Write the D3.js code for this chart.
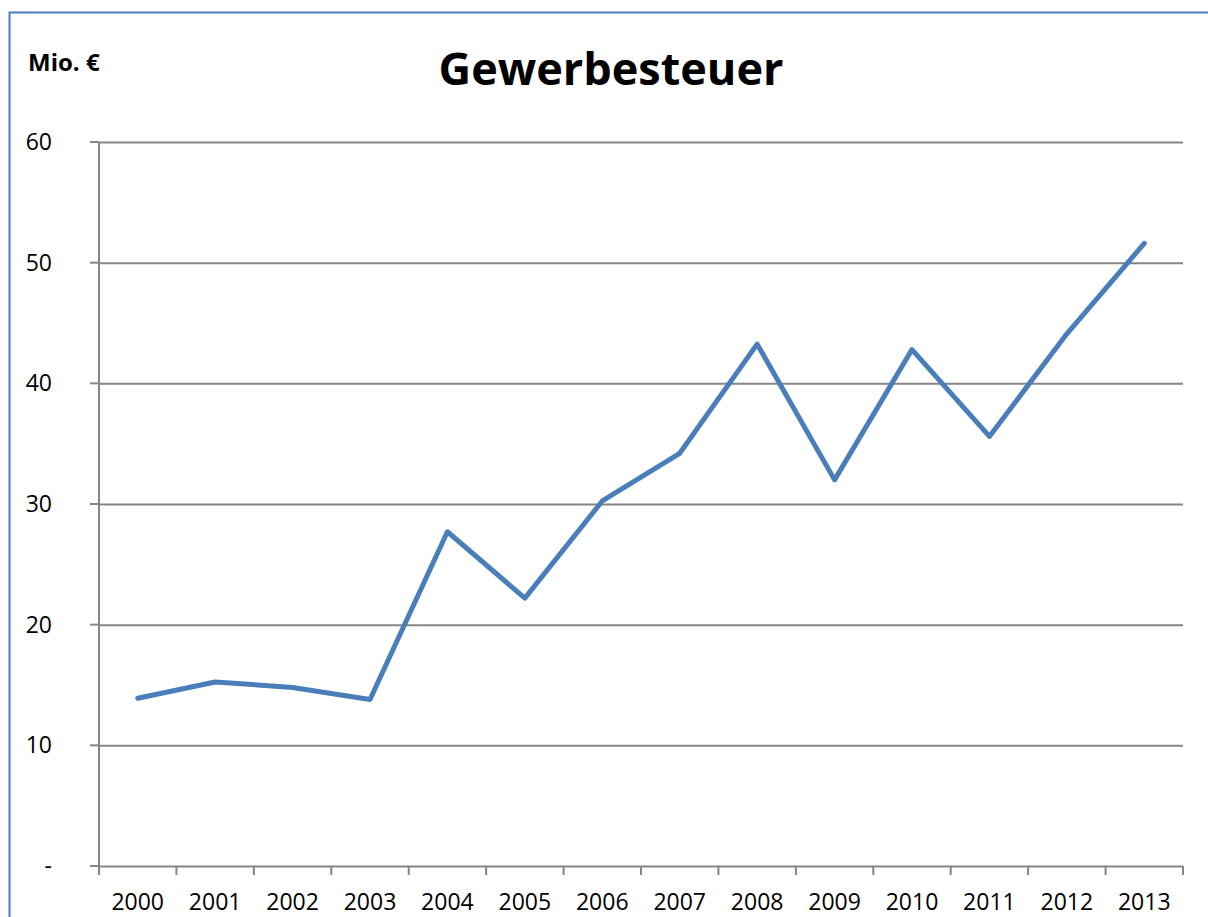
<!DOCTYPE html>
<html>
<head>
<meta charset="utf-8">
<script src="https://cdn.jsdelivr.net/npm/d3@7"></script>
<style>
  body { margin: 0; background: #fff; }
  svg { display: block; font-family: "Open Sans", sans-serif; }
</style>
</head>
<body>
<svg id="chart" width="1208" height="917"></svg>
<script>
// data
const years = ["2000","2001","2002","2003","2004","2005","2006","2007","2008","2009","2010","2011","2012","2013"]
const values = [13.9, 15.25, 14.8, 13.8, 27.7, 22.2, 30.25, 34.2, 43.25, 32.0, 42.8, 35.6, 44.1, 51.6]
const yTicks = [0, 10, 20, 30, 40, 50, 60]
const yTickLabels = ["-", "10", "20", "30", "40", "50", "60"]

const svg = d3.select("#chart")
const plotLeft = 99, plotRight = 1183, plotTop = 142, plotBottom = 866
const grid = "#868686"
const blue = "#4a7ebb"

// frame (only left and top edge are visible)
svg.append("path")
  .attr("d", "M9.5,917 V12.5 H1208")
  .attr("fill", "none")
  .attr("stroke", blue)
  .attr("stroke-width", 2)

const x = d3.scaleBand().domain(years).range([plotLeft, plotRight]).padding(0)
const y = d3.scaleLinear().domain([0, 60]).range([plotBottom, plotTop])

// horizontal gridlines
svg.append("g")
  .attr("transform", `translate(${plotLeft},0)`)
  .call(d3.axisLeft(y).tickValues(yTicks).tickSize(-(plotRight - plotLeft)).tickFormat(""))
  .call(g => g.select(".domain").remove())
  .call(g => g.selectAll("line").attr("stroke", grid).attr("stroke-width", 2))

// small outward ticks on the left
svg.append("g")
  .selectAll("line")
  .data(yTicks)
  .enter()
  .append("line")
  .attr("x1", plotLeft - 9).attr("x2", plotLeft)
  .attr("y1", d => y(d)).attr("y2", d => y(d))
  .attr("stroke", grid).attr("stroke-width", 2)

// y axis line
svg.append("line")
  .attr("x1", plotLeft).attr("x2", plotLeft)
  .attr("y1", plotTop).attr("y2", plotBottom + 9)
  .attr("stroke", grid).attr("stroke-width", 2)

// y labels
svg.append("g")
  .selectAll("text")
  .data(yTicks)
  .enter()
  .append("text")
  .attr("x", 52)
  .attr("y", d => y(d) + 8)
  .attr("text-anchor", "end")
  .attr("font-size", 23)
  .text((d, i) => yTickLabels[i])

// x axis with ticks between categories
const bounds = years.map(d => x(d)).concat([plotRight])
svg.append("g")
  .selectAll("line")
  .data(bounds)
  .enter()
  .append("line")
  .attr("x1", d => d).attr("x2", d => d)
  .attr("y1", plotBottom).attr("y2", plotBottom + 9)
  .attr("stroke", grid).attr("stroke-width", 2)

svg.append("g")
  .selectAll("text")
  .data(years)
  .enter()
  .append("text")
  .attr("x", d => x(d) + x.bandwidth() / 2)
  .attr("y", 910)
  .attr("text-anchor", "middle")
  .attr("font-size", 23)
  .text(d => d)

// the series
const line = d3.line()
  .x((d, i) => x(years[i]) + x.bandwidth() / 2)
  .y(d => y(d))

svg.append("path")
  .datum(values)
  .attr("d", line)
  .attr("fill", "none")
  .attr("stroke", blue)
  .attr("stroke-width", 5)
  .attr("stroke-linejoin", "round")
  .attr("stroke-linecap", "round")

// title and unit
svg.append("text")
  .attr("x", 611)
  .attr("y", 85)
  .attr("text-anchor", "middle")
  .attr("font-size", 45)
  .attr("font-weight", "bold")
  .text("Gewerbesteuer")

svg.append("text")
  .attr("x", 28)
  .attr("y", 71)
  .attr("font-size", 24)
  .attr("font-weight", "bold")
  .text("Mio. €")
</script>
</body>
</html>
